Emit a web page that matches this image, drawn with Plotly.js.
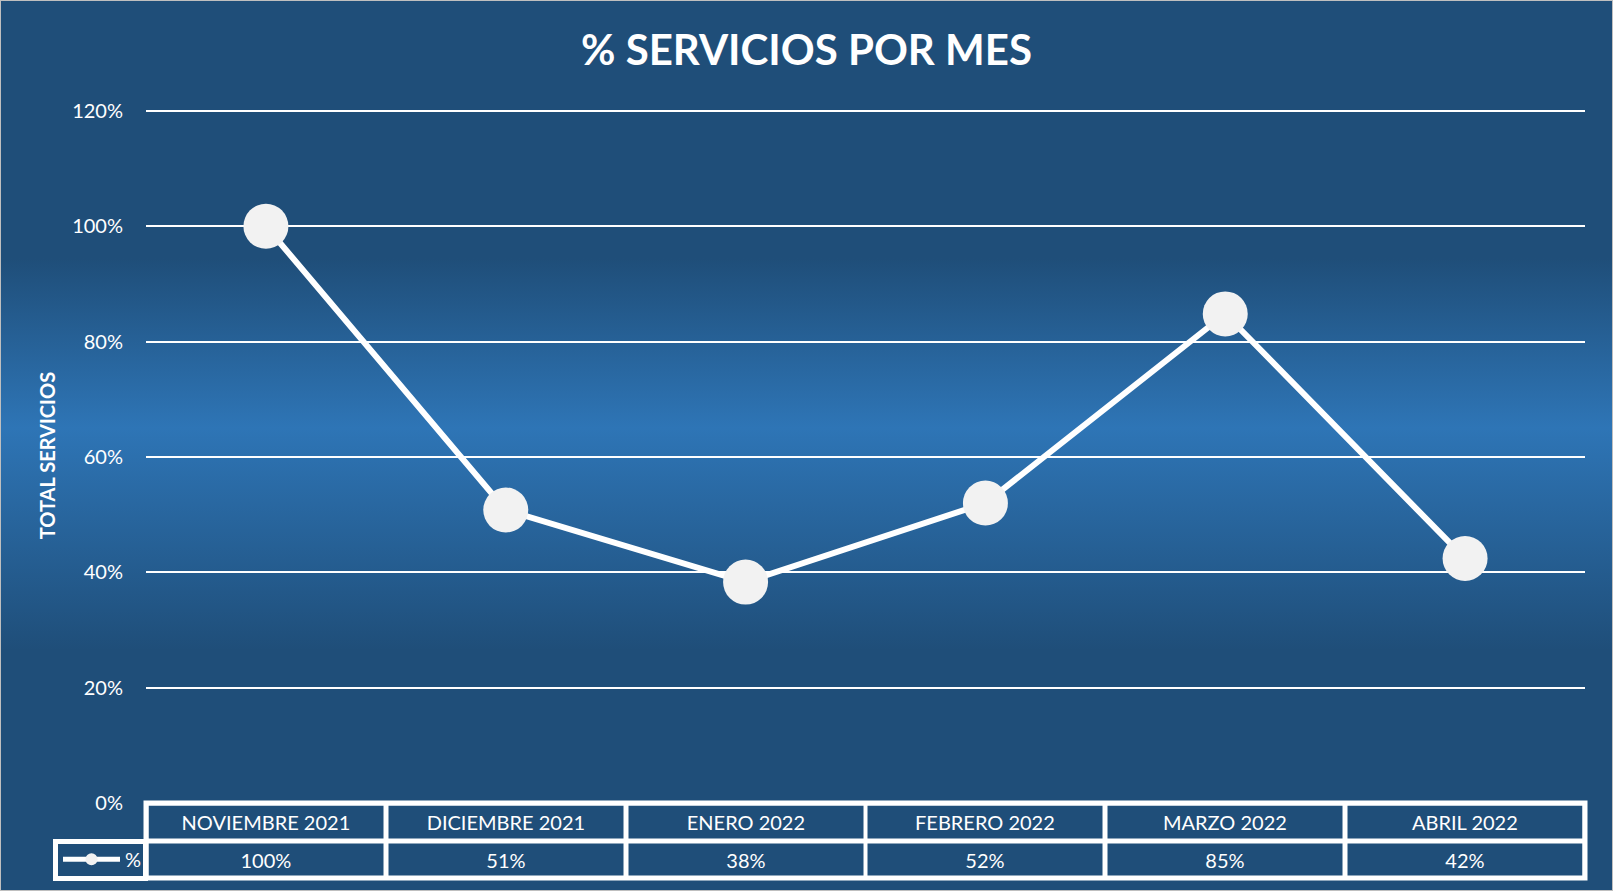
<!DOCTYPE html>
<html>
<head>
<meta charset="utf-8">
<script src="https://cdn.plot.ly/plotly-3.0.1.min.js"></script>
<style>
  html, body { margin: 0; padding: 0; background: #ffffff; }
  #chart {
    width: 1613px; height: 891px;
    background: linear-gradient(to bottom, #1F4E79 0%, #1F4E79 29%, #2E75B6 48%, #1F4E79 73%, #1F4E79 100%);
    box-shadow: inset 0 0 0 1px #BFBFBF;
  }
</style>
</head>
<body>
<div id="chart"></div>
<script>
// ---- data ----
const categories = ['NOVIEMBRE 2021', 'DICIEMBRE 2021', 'ENERO 2022', 'FEBRERO 2022', 'MARZO 2022', 'ABRIL 2022'];
const values = [1.00, 0.508, 0.383, 0.52, 0.848, 0.424];
const seriesName = '%';
const yTickVals = [0, 0.2, 0.4, 0.6, 0.8, 1.0, 1.2];
const yTickText = ['0%', '20%', '40%', '60%', '80%', '100%', '120%'];

// ---- layout constants ----
const W = 1613, H = 891;
const M = {l: 146, r: 28, t: 108, b: 88};
const plotW = W - M.l - M.r;
const plotH = H - M.t - M.b;
const rowPx = 37.5;
const colPx = plotW / categories.length;
const FONT = 'Lato, "Open Sans", sans-serif';
const bw = 2.5;

const annotations = [];
categories.forEach((c, i) => {
  annotations.push({
    xref: 'x', yref: 'paper', x: i, y: 0, xanchor: 'center', yanchor: 'top',
    text: c, showarrow: false,
    width: colPx - 2 * bw, height: rowPx - 2 * bw,
    borderwidth: bw, borderpad: 0, bordercolor: '#FFFFFF',
    font: {family: FONT, size: 20, color: '#FFFFFF'}
  });
  annotations.push({
    xref: 'x', yref: 'paper', x: i, y: -rowPx / plotH, xanchor: 'center', yanchor: 'top',
    text: Math.round(values[i] * 100) + '%', showarrow: false,
    width: colPx - 2 * bw, height: rowPx - 2 * bw,
    borderwidth: bw, borderpad: 0, bordercolor: '#FFFFFF',
    font: {family: FONT, size: 20, color: '#FFFFFF'}
  });
});
// legend key cell frame
const legCellLeft = 55;
const legCellW = M.l - legCellLeft + 2;
annotations.push({
  xref: 'paper', yref: 'paper',
  x: (legCellLeft - 2 - M.l) / plotW, y: -rowPx / plotH + 2 / plotH,
  xanchor: 'left', yanchor: 'top',
  text: ' ', showarrow: false,
  width: legCellW + 2 - 10, height: rowPx + 4 - 10,
  borderwidth: 5, borderpad: 0, bordercolor: '#FFFFFF'
});

const trace = {
  type: 'scatter', mode: 'lines+markers',
  x: categories, y: values, name: seriesName,
  line: {color: '#FFFFFF', width: 6},
  marker: {color: '#F2F2F2', size: 45, line: {width: 0}},
  cliponaxis: false,
  hoverinfo: 'x+y'
};

const layout = {
  width: W, height: H,
  paper_bgcolor: 'rgba(0,0,0,0)', plot_bgcolor: 'rgba(0,0,0,0)',
  margin: M,
  font: {family: FONT, color: '#FFFFFF'},
  title: {
    text: '<b>% SERVICIOS POR MES</b>',
    font: {family: FONT, size: 42, color: '#FFFFFF'},
    x: 0.5, xanchor: 'center', xref: 'container',
    y: 1 - 50 / H, yanchor: 'middle', yref: 'container'
  },
  xaxis: {
    type: 'category', range: [-0.5, categories.length - 0.5],
    showticklabels: false, showgrid: false, zeroline: false, showline: false, ticks: ''
  },
  yaxis: {
    range: [0, 1.205], tickvals: yTickVals, ticktext: yTickText,
    showgrid: true, gridcolor: '#FFFFFF', gridwidth: 2,
    zeroline: false, showline: false, ticks: '',
    ticklabelstandoff: 22,
    tickfont: {family: FONT, size: 20, color: '#FFFFFF'},
    title: {text: '<b>TOTAL SERVICIOS</b>', font: {family: FONT, size: 20, color: '#FFFFFF'}, standoff: 11}
  },
  showlegend: true,
  legend: {
    x: (58 - M.l) / plotW, xanchor: 'left',
    y: -(rowPx * 1.5) / plotH, yanchor: 'middle',
    bgcolor: 'rgba(0,0,0,0)', borderwidth: 0,
    font: {family: FONT, size: 20, color: '#FFFFFF'},
    itemsizing: 'constant', itemwidth: 57
  },
  shapes: [{
    type: 'rect', xref: 'paper', yref: 'paper',
    x0: 0, x1: 1, y0: 0, y1: -2 * rowPx / plotH,
    line: {color: '#FFFFFF', width: 5}, fillcolor: 'rgba(0,0,0,0)'
  }],
  annotations: annotations
};

Plotly.newPlot('chart', [trace], layout, {displayModeBar: false, staticPlot: true});
</script>
</body>
</html>
